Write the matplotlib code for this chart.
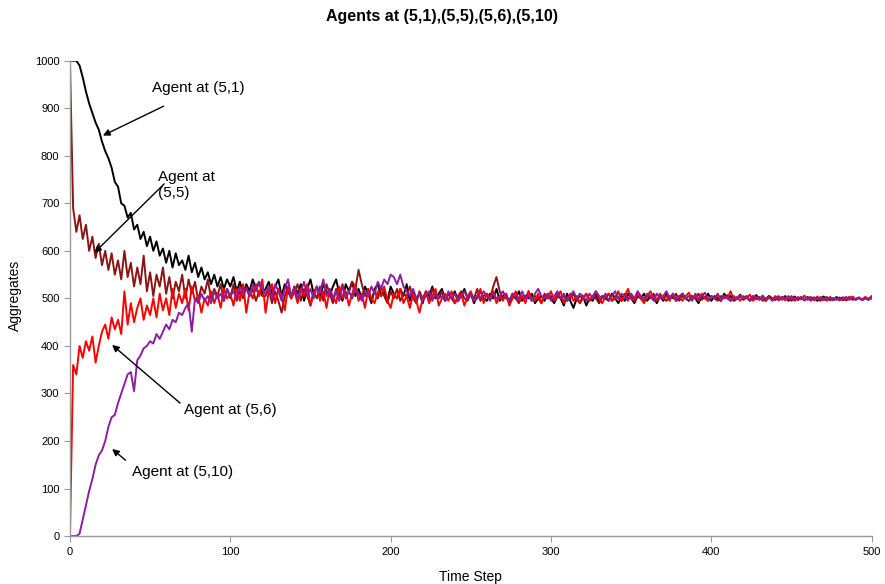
import matplotlib.pyplot as plt

plt.rcParams['font.family'] = ['Liberation Sans', 'DejaVu Sans']

# one reading every 2 time steps
time_steps = list(range(0, 501, 2))

agent_5_1 = [
    1000, 1000, 1000, 990, 965, 935, 910, 890, 870, 855,
    830, 810, 795, 775, 745, 735, 700, 695, 670, 680,
    645, 655, 625, 640, 610, 630, 600, 620, 590, 605,
    575, 600, 565, 595, 570, 580, 560, 590, 555, 575,
    545, 565, 540, 555, 530, 550, 525, 545, 520, 540,
    525, 545, 515, 535, 510, 530, 515, 540, 520, 535, 510,
    # t = 122 .. 500
    520, 535, 510, 525, 540, 505, 530, 515, 500, 525,
    510, 530, 495, 520, 540, 510, 525, 500, 530, 515,
    505, 525, 540, 510, 495, 530, 515, 535, 505, 520,
    500, 525, 510, 490, 520, 530, 505, 515, 495, 525,
    510, 500, 520, 505, 530, 495, 515, 500, 510, 490,
    515, 505, 525, 500, 510, 520, 495, 510, 500, 515,
    495, 505, 520, 500, 510, 490, 505, 515, 500, 495,
    510, 500, 520, 495, 505, 510, 490, 505, 500, 515,
    495, 505, 500, 510, 490, 500, 505, 495, 510, 500,
    490, 505, 500, 485, 510, 495, 480, 500, 490, 505,
    485, 500, 495, 510, 490, 505, 500, 495, 510, 500,
    490, 505, 495, 510, 500, 490, 505, 500, 510, 495,
    505, 500, 490, 505, 495, 510, 500, 505, 495, 500,
    510, 500, 495, 505, 500, 490, 505, 500, 510, 495,
    505, 500, 495, 510, 500, 505, 495, 500, 508, 498,
    505, 495, 500, 507, 498, 503, 495, 505, 500, 497,
    503, 498, 505, 495, 500, 504, 497, 502, 496, 503,
    498, 502, 495, 500, 504, 497, 501, 496, 503, 499,
    502, 496, 500, 503, 497, 501, 498, 502, 497, 502,
]

agent_5_5 = [
    1000, 690, 640, 675, 625, 655, 600, 630, 585, 615,
    570, 600, 560, 595, 550, 580, 540, 600, 545, 575,
    525, 565, 530, 590, 515, 555, 505, 550, 525, 565,
    510, 545, 500, 535, 515, 550, 500, 540, 510, 535,
    495, 525, 510, 540, 500, 520, 505, 530, 495, 520,
    500, 530, 495, 515, 500, 525, 505, 520, 495, 515, 505,
    # t = 122 .. 500
    505, 520, 490, 515, 495, 470, 505, 525, 500, 515,
    530, 495, 520, 505, 485, 515, 500, 525, 495, 530,
    510, 490, 520, 505, 530, 500, 515, 535, 520, 560,
    530, 505, 520, 495, 515, 500, 525, 505, 490, 515,
    500, 520, 495, 510, 505, 525, 500, 490, 515, 500,
    510, 495, 520, 505, 500, 515, 495, 510, 500, 490,
    505, 515, 500, 495, 510, 500, 520, 495, 505, 510,
    500, 525, 545, 515, 500, 505, 495, 510, 500, 490,
    505, 500, 515, 495, 505, 500, 490, 510, 500, 505,
    495, 510, 500, 505, 495, 500, 510, 495, 505, 500,
    510, 495, 505, 500, 490, 505, 500, 510, 495, 505,
    500, 495, 510, 500, 505, 495, 510, 500, 495, 505,
    500, 510, 495, 505, 500, 495, 505, 500, 510, 495,
    505, 500, 495, 505, 500, 510, 497, 503, 495, 505,
    500, 495, 505, 500, 507, 495, 503, 498, 505, 497,
    502, 496, 505, 498, 503, 495, 500, 505, 497, 502,
    496, 503, 498, 501, 495, 503, 497, 502, 496, 500,
    503, 497, 501, 495, 500, 503, 496, 501, 497, 502,
    496, 500, 503, 497, 499, 502, 496, 500, 498, 502,
]

agent_5_6 = [
    0, 360, 340, 400, 375, 410, 390, 420, 365, 400,
    430, 445, 415, 460, 435, 455, 425, 515, 445, 490,
    450, 480, 500, 455, 485, 465, 500, 460, 510, 475,
    500, 465, 520, 480, 510, 490, 520, 475, 525, 495,
    505, 470, 500, 485, 515, 490, 510, 480, 520, 500,
    510, 485, 520, 495, 530, 470, 515, 500, 530, 505, 540,
    # t = 122 .. 500
    470, 515, 530, 490, 520, 505, 475, 525, 500, 515,
    490, 520, 505, 530, 485, 510, 525, 495, 515, 480,
    520, 505, 490, 525, 500, 515, 485, 510, 530, 495,
    510, 480, 520, 500, 490, 515, 505, 525, 495, 480,
    510, 500, 520, 490, 505, 480, 510, 495, 470, 500,
    515, 490, 505, 520, 485, 500, 510, 495, 515, 490,
    500, 510, 485, 505, 515, 495, 500, 520, 490, 510,
    500, 515, 490, 505, 495, 510, 485, 500, 515, 495,
    505, 490, 515, 500, 495, 510, 490, 505, 500, 515,
    495, 505, 515, 490, 500, 510, 495, 505, 490, 500,
    510, 495, 505, 515, 500, 490, 505, 510, 495, 500,
    515, 495, 505, 520, 500, 495, 510, 500, 490, 505,
    515, 500, 495, 510, 500, 505, 495, 510, 500, 505,
    495, 505, 512, 498, 505, 495, 510, 500, 495, 505,
    500, 510, 495, 505, 500, 515, 497, 503, 495, 505,
    500, 508, 495, 503, 498, 506, 495, 502, 498, 505,
    497, 503, 496, 505, 500, 495, 503, 498, 506, 497,
    502, 496, 504, 498, 501, 495, 503, 497, 500, 496,
    502, 497, 500, 504, 498, 501, 497, 503, 499, 505,
]

agent_5_10 = [
    0, 0, 0, 5, 35, 65, 95, 120, 150, 170,
    180, 200, 230, 250, 255, 280, 300, 320, 340, 345,
    305, 370, 380, 395, 400, 410, 405, 425, 415, 430,
    445, 435, 455, 450, 470, 465, 480, 490, 430, 500,
    490, 510, 495, 505, 490, 515, 500, 510, 495, 520,
    505, 515, 500, 525, 510, 520, 505, 530, 515, 535, 520,
    # t = 122 .. 500
    510, 525, 500, 530, 515, 495, 520, 540, 505, 525,
    500, 515, 535, 505, 520, 500, 525, 510, 540, 505,
    520, 500, 515, 495, 525, 505, 515, 500, 520, 510,
    495, 515, 505, 525, 510, 535, 520, 540, 530, 550,
    545, 530, 550, 525, 515, 505, 520, 500, 510, 495,
    505, 515, 495, 510, 500, 505, 495, 515, 500, 510,
    495, 505, 515, 500, 510, 495, 505, 500, 515, 505,
    495, 510, 500, 505, 515, 500, 495, 510, 505, 500,
    515, 500, 505, 495, 510, 520, 505, 500, 510, 495,
    505, 515, 500, 510, 495, 505, 515, 500, 510, 505,
    495, 510, 500, 515, 505, 500, 510, 495, 505, 515,
    500, 510, 505, 495, 510, 500, 515, 505, 500, 510,
    505, 495, 510, 500, 505, 515, 500, 510, 495, 505,
    510, 500, 505, 495, 510, 500, 505, 512, 498, 505,
    500, 508, 497, 505, 500, 495, 505, 498, 507, 500,
    503, 496, 505, 500, 497, 505, 498, 502, 495, 500,
    505, 497, 502, 498, 505, 496, 500, 503, 497, 501,
    495, 502, 498, 503, 496, 500, 502, 497, 501, 496,
    500, 503, 497, 501, 498, 502, 497, 500, 498, 500,
]

series = [
    (agent_5_1, 'black'),
    (agent_5_5, '#8b1414'),
    (agent_5_6, '#ff0000'),
    (agent_5_10, '#8a1fa0'),
]

fig = plt.figure(figsize=(8.85, 5.84), dpi=100)
ax = fig.add_axes([0.079, 0.082, 0.906, 0.814])

for vals, col in series:
    ax.plot(time_steps, vals, color=col, linewidth=1.4)

ax.set_xlim(0, 500)
ax.set_ylim(0, 1000)
ax.set_xticks(range(0, 501, 100))
ax.set_yticks(range(0, 1001, 100))
for s in ['top', 'right']:
    ax.spines[s].set_visible(False)
for s in ['left', 'bottom']:
    ax.spines[s].set_color('#999999')
    ax.spines[s].set_linewidth(1.0)
ax.tick_params(colors='#999999', labelcolor='black', labelsize=8, length=4, direction='out')

fig.text(0.5, 0.972, 'Agents at (5,1),(5,5),(5,6),(5,10)', ha='center', va='center',
         fontsize=11.5, fontweight='bold')
fig.text(0.532, 0.012, 'Time Step', ha='center', va='center', fontsize=10)
fig.text(0.017, 0.495, 'Aggregates', ha='center', va='center', rotation=90, fontsize=10)

# labels and arrows
arrow = dict(arrowstyle='-|>', color='black', lw=1.0, mutation_scale=10)
ax.text(51, 943, 'Agent at (5,1)', fontsize=11, va='center', ha='left')
ax.annotate('', xy=(19, 840), xytext=(60, 907), arrowprops=arrow)
ax.text(55, 739, 'Agent at\n(5,5)', fontsize=11, va='center', ha='left', linespacing=1.2)
ax.annotate('', xy=(14, 592), xytext=(60, 745), arrowprops=arrow)
ax.text(71, 265, 'Agent at (5,6)', fontsize=11, va='center', ha='left')
ax.annotate('', xy=(25, 406), xytext=(70, 276), arrowprops=arrow)
ax.text(39, 135, 'Agent at (5,10)', fontsize=11, va='center', ha='left')
ax.annotate('', xy=(25, 187), xytext=(36, 156), arrowprops=arrow)

fig.savefig('out.png', dpi=100)
